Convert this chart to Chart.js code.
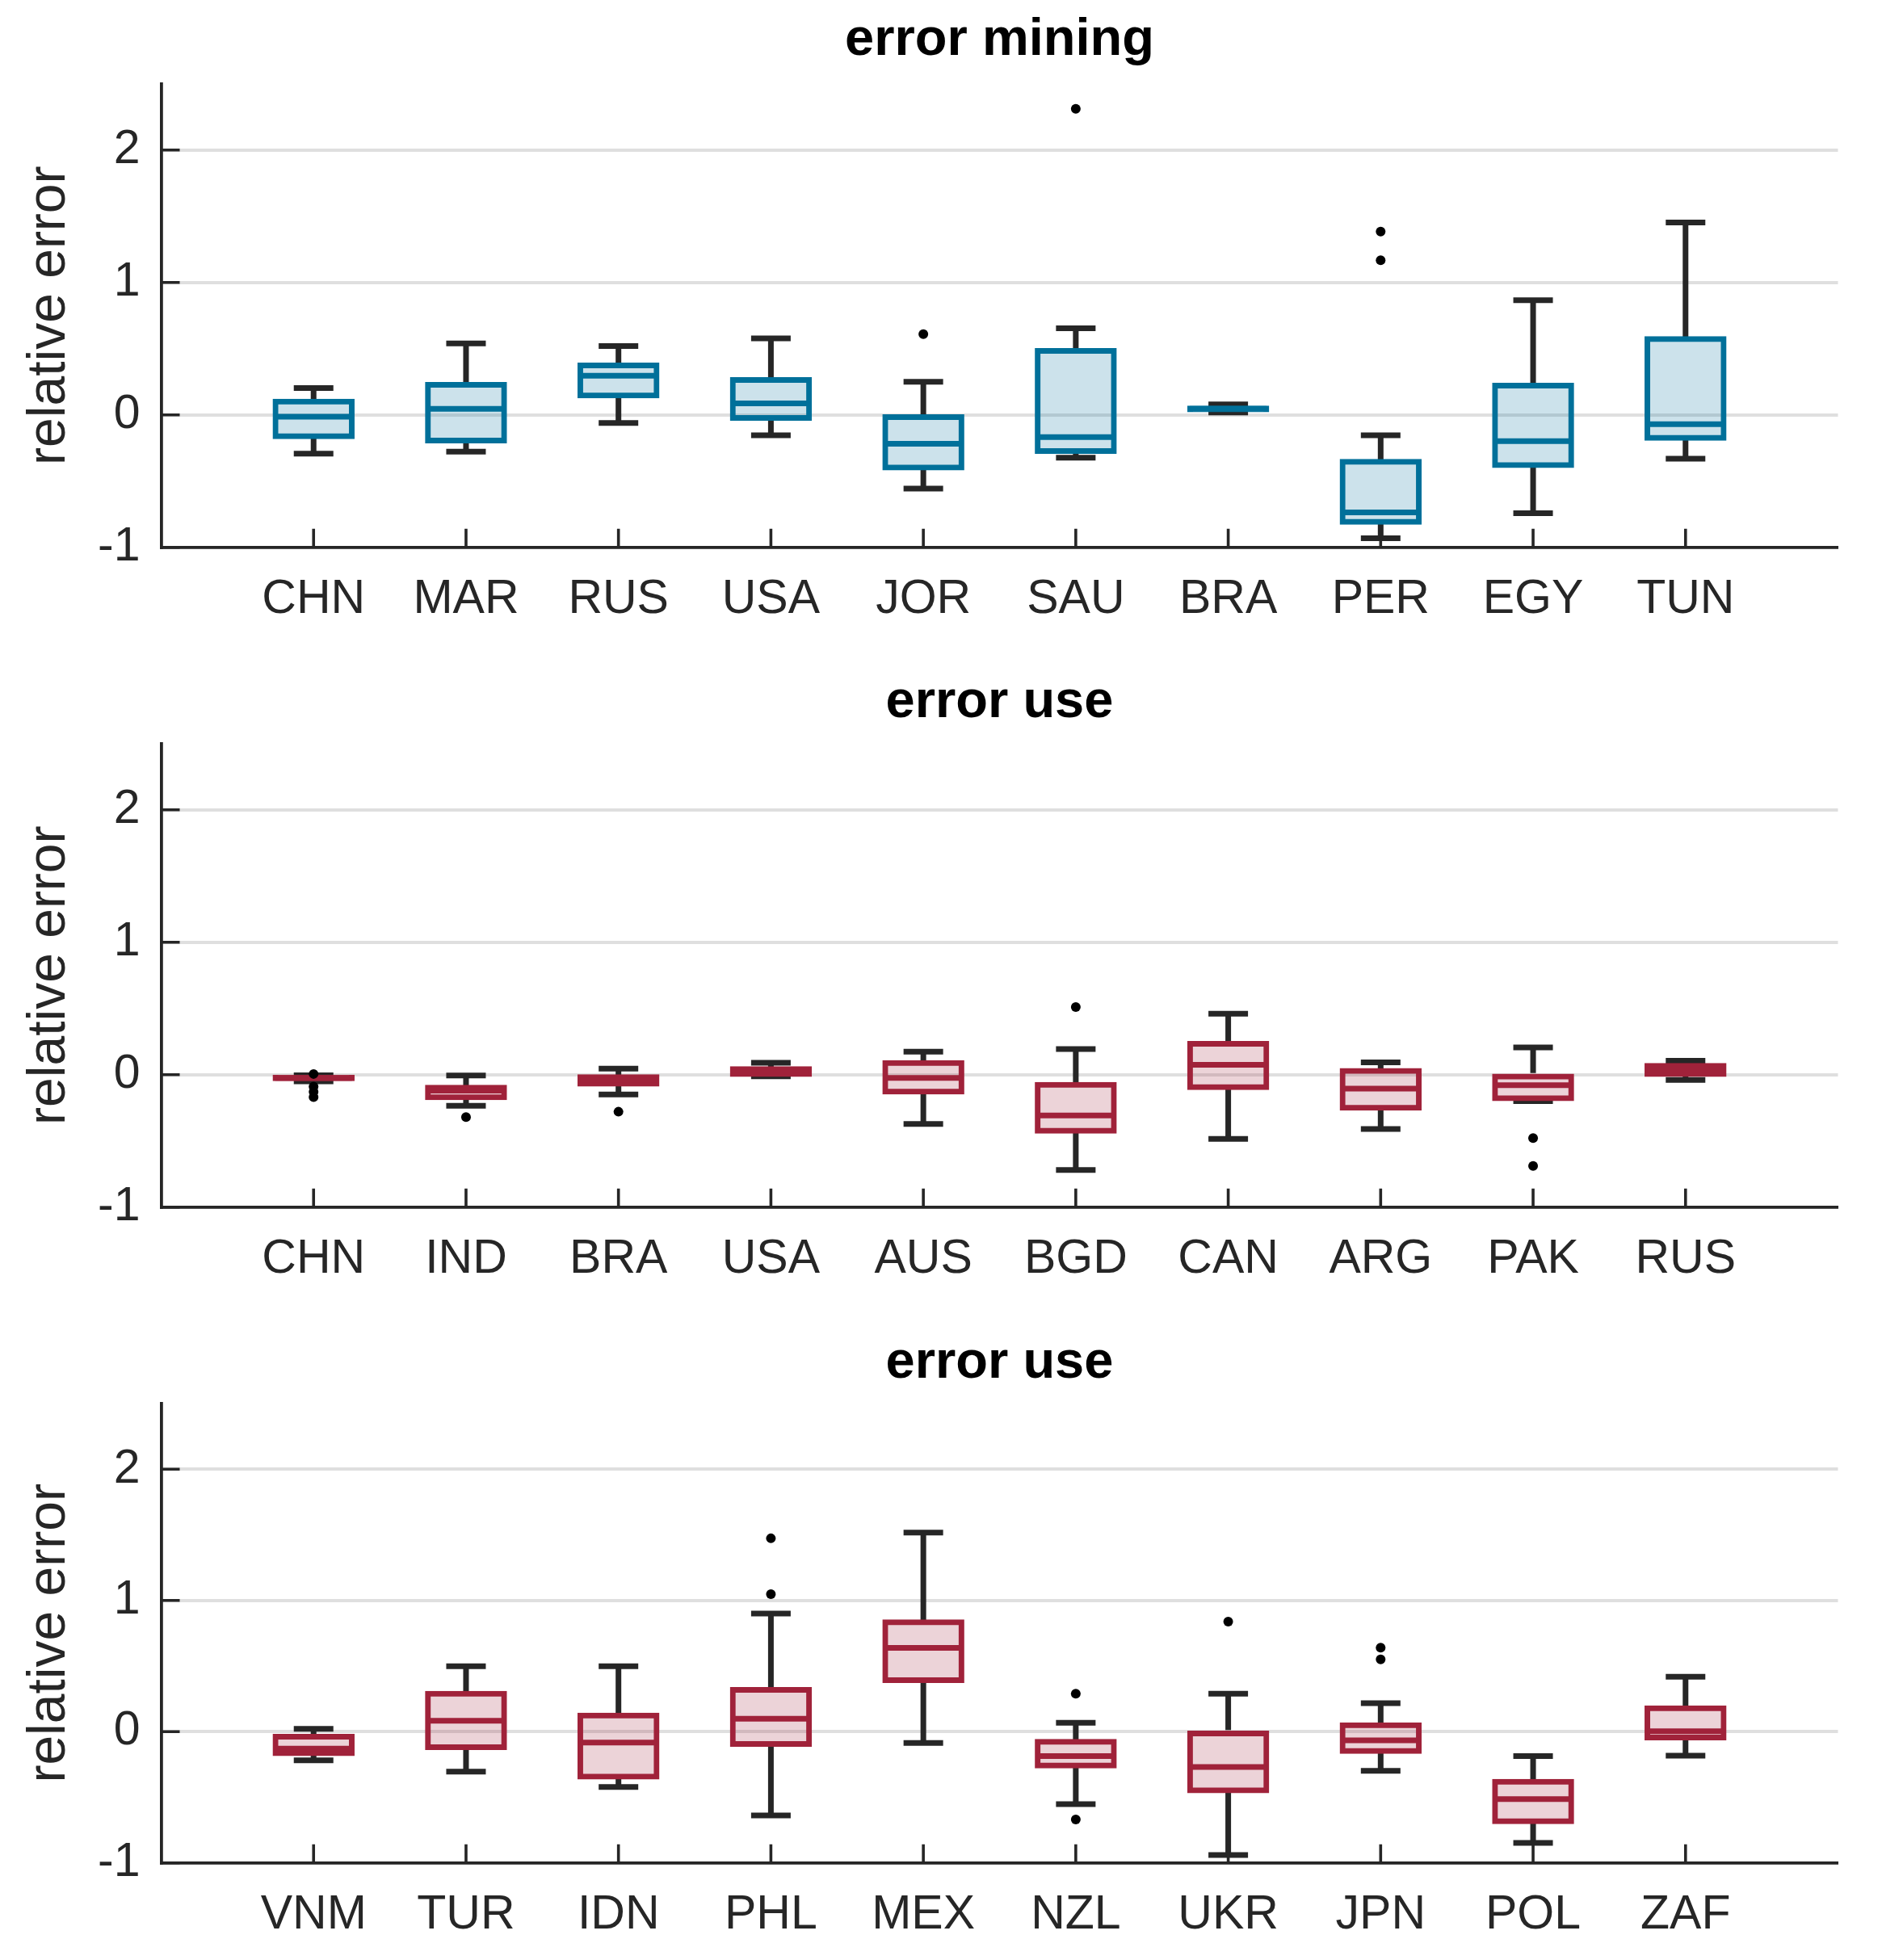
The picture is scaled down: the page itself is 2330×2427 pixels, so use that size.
<!DOCTYPE html>
<html>
<head>
<meta charset="utf-8">
<script src="https://cdn.jsdelivr.net/npm/chart.js@4.4.1/dist/chart.umd.min.js"></script>
<style>
  html, body { margin: 0; padding: 0; background: #ffffff; overflow: hidden; }
  #wrap { position: relative; width: 2330px; height: 2427px; background: #ffffff; }
  .panel { position: absolute; left: 0; width: 2330px; height: 817px; }
  canvas { display: block; }
</style>
</head>
<body>
<div id="wrap">
  <div class="panel" style="top:0px"><canvas id="c1" width="2330" height="817"></canvas></div>
  <div class="panel" style="top:817px"><canvas id="c2" width="2330" height="817"></canvas></div>
  <div class="panel" style="top:1634px"><canvas id="c3" width="2330" height="817"></canvas></div>
</div>
<script>
// ---------- data ----------
const yTickValues = [-1, 0, 1, 2];

// Panel 1: error mining
const miningLabels  = ['CHN', 'MAR', 'RUS', 'USA', 'JOR', 'SAU', 'BRA', 'PER', 'EGY', 'TUN'];
const miningLow     = [-0.293, -0.278, -0.062, -0.155, -0.556, -0.323, 0.018, -0.931, -0.742, -0.331];
const miningQ1      = [-0.163, -0.195, 0.145, -0.025, -0.400, -0.275, 0.039, -0.809, -0.382, -0.175];
const miningMedian  = [-0.014, 0.045, 0.295, 0.087, -0.218, -0.168, 0.045, -0.736, -0.199, -0.071];
const miningQ3      = [0.102, 0.228, 0.375, 0.265, -0.015, 0.485, 0.050, -0.352, 0.222, 0.575];
const miningHigh    = [0.203, 0.539, 0.520, 0.578, 0.250, 0.653, 0.079, -0.154, 0.866, 1.453];
const miningOutliers = [['JOR', 0.61], ['SAU', 2.31], ['PER', 1.384], ['PER', 1.167]];

// Panel 2: error use
const use1Labels  = ['CHN', 'IND', 'BRA', 'USA', 'AUS', 'BGD', 'CAN', 'ARG', 'PAK', 'RUS'];
const use1Low     = [-0.050, -0.235, -0.150, -0.012, -0.373, -0.720, -0.485, -0.410, -0.200, -0.040];
const use1Q1      = [-0.029, -0.173, -0.070, 0.003, -0.130, -0.425, -0.097, -0.252, -0.180, 0.003];
const use1Median  = [-0.025, -0.120, -0.040, 0.025, -0.025, -0.308, 0.075, -0.106, -0.080, 0.035];
const use1Q3      = [-0.020, -0.096, -0.017, 0.044, 0.090, -0.075, 0.235, 0.030, 0.000, 0.068];
const use1High    = [-0.005, -0.006, 0.045, 0.089, 0.174, 0.193, 0.460, 0.093, 0.205, 0.105];
const use1Outliers = [['CHN', 0.005], ['CHN', -0.09], ['CHN', -0.13], ['CHN', -0.17],
                      ['IND', -0.32], ['BRA', -0.28], ['BGD', 0.51], ['PAK', -0.479], ['PAK', -0.69]];

// Panel 3: error use
const use2Labels  = ['VNM', 'TUR', 'IDN', 'PHL', 'MEX', 'NZL', 'UKR', 'JPN', 'POL', 'ZAF'];
const use2Low     = [-0.219, -0.305, -0.422, -0.638, -0.086, -0.552, -0.940, -0.298, -0.848, -0.184];
const use2Q1      = [-0.166, -0.120, -0.345, -0.095, 0.390, -0.260, -0.450, -0.150, -0.685, -0.046];
const use2Median  = [-0.130, 0.083, -0.083, 0.098, 0.638, -0.187, -0.270, -0.067, -0.514, 0.003];
const use2Q3      = [-0.037, 0.290, 0.125, 0.320, 0.835, -0.075, 0.000, 0.050, -0.380, 0.180];
const use2High    = [0.022, 0.498, 0.498, 0.900, 1.517, 0.067, 0.289, 0.216, -0.187, 0.419];
const use2Outliers = [['PHL', 1.473], ['PHL', 1.048], ['NZL', 0.289], ['NZL', -0.67],
                      ['UKR', 0.838], ['JPN', 0.64], ['JPN', 0.55]];

// ---------- styling ----------
const FONT = "'Liberation Sans', Arial, Helvetica, sans-serif";
const DARK = '#262626';
const BLUE = '#00709A', BLUE_FILL = 'rgba(0,112,154,0.2)';
const RED = '#A0223A', RED_FILL = 'rgba(160,34,58,0.2)';

const inwardTicks = {
  id: 'inwardTicks',
  afterDatasetsDraw(chart) {
    const { ctx, chartArea: a, scales: { x, y } } = chart;
    ctx.save();
    ctx.strokeStyle = DARK;
    ctx.lineWidth = 3.6;
    ctx.beginPath();
    x.ticks.forEach((t, i) => {
      const lab = x.getLabelForValue(t.value);
      if (!lab || !String(lab).trim()) return;
      const px = x.getPixelForTick(i);
      ctx.moveTo(px, a.bottom);
      ctx.lineTo(px, a.bottom - 23);
    });
    y.ticks.forEach((t, i) => {
      const py = y.getPixelForTick(i);
      ctx.moveTo(a.left, py);
      ctx.lineTo(a.left + 23, py);
    });
    ctx.stroke();
    ctx.restore();
  }
};

function makePanel(id, titleText, labels, low, q1, med, q3, high, outliers, color, fill, layout) {
  const axisLabels = [''].concat(labels, [' ']);
  const pts = (arr) => labels.map((c, i) => ({ x: c, y: arr[i] }));
  const ranges = (a, b) => labels.map((c, i) => ({ x: c, y: [a[i], b[i]] }));

  const datasets = [
    { type: 'bar', label: 'whisker low', data: ranges(low, q1), backgroundColor: DARK,
      borderWidth: 0, barThickness: 7, grouped: false, inflateAmount: 0, order: 7 },
    { type: 'bar', label: 'whisker high', data: ranges(q3, high), backgroundColor: DARK,
      borderWidth: 0, barThickness: 7, grouped: false, inflateAmount: 0, order: 7 },
    { type: 'scatter', label: 'caps', data: pts(low).concat(pts(high)), showLine: false,
      pointStyle: 'line', pointRadius: 24.5, pointBorderWidth: 7, pointBorderColor: DARK,
      pointBackgroundColor: DARK, order: 6 },
    { type: 'bar', label: 'box fill', data: ranges(q1, q3), backgroundColor: fill,
      borderWidth: 0, barThickness: 95, grouped: false, inflateAmount: 0, order: 5 },
    { type: 'bar', label: 'box edge', data: ranges(q1, q3), backgroundColor: 'rgba(0,0,0,0)',
      borderColor: color, borderWidth: 0.5, borderSkipped: false, barThickness: 95,
      grouped: false, inflateAmount: 3.25, order: 4 },
    { type: 'scatter', label: 'median', data: pts(med), showLine: false,
      pointStyle: 'line', pointRadius: 47.5, pointBorderWidth: 7, pointBorderColor: color,
      pointBackgroundColor: color, order: 3 },
    { type: 'scatter', label: 'outliers', data: outliers.map(o => ({ x: o[0], y: o[1] })),
      showLine: false, pointStyle: 'circle', pointRadius: 6, pointBorderWidth: 0,
      pointBackgroundColor: '#000000', order: 1 }
  ];

  new Chart(document.getElementById(id), {
    type: 'bar',
    data: { labels: axisLabels, datasets },
    plugins: [inwardTicks],
    options: {
      responsive: false,
      animation: false,
      devicePixelRatio: 1,
      events: [],
      layout: { padding: { top: 0, right: 40, bottom: 0, left: 0 } },
      plugins: {
        legend: { display: false },
        tooltip: { enabled: false },
        title: {
          display: true, text: titleText, fullSize: false, color: '#000000',
          font: { family: FONT, size: 65, weight: 'bold', lineHeight: 1.2 },
          padding: { top: layout.titleTop, bottom: layout.titleBottom }
        }
      },
      scales: {
        x: {
          type: 'category',
          offset: false,
          grid: { display: true, drawOnChartArea: false, drawTicks: false, offset: false },
          border: { display: true, color: DARK, width: 3.8 },
          ticks: { autoSkip: false, maxRotation: 0, padding: 30, color: DARK,
                   font: { family: FONT, size: 59, lineHeight: 1.2 } },
          afterFit(scale) { scale.height = layout.xAxisHeight; }
        },
        y: {
          type: 'linear',
          min: -1, max: 2.5,
          afterBuildTicks(scale) {
            scale.ticks = yTickValues.map(v => ({ value: v }));
          },
          grid: { color: '#dfdfdf', lineWidth: 4, drawTicks: false },
          border: { display: true, color: DARK, width: 3.8 },
          ticks: { padding: 26, color: DARK, font: { family: FONT, size: 59, lineHeight: 1.2 } },
          title: { display: true, text: 'relative error', color: DARK,
                   font: { family: FONT, size: 66, lineHeight: 1.2 },
                   padding: { top: 22, bottom: 0 } },
          afterFit(scale) { scale.width = 199.5; }
        }
      }
    }
  });
}

makePanel('c1', 'error mining', miningLabels, miningLow, miningQ1, miningMedian, miningQ3, miningHigh,
          miningOutliers, BLUE, BLUE_FILL, { titleTop: 11.5, titleBottom: 14.2, xAxisHeight: 139.3 });
makePanel('c2', 'error use', use1Labels, use1Low, use1Q1, use1Median, use1Q3, use1High,
          use1Outliers, RED, RED_FILL, { titleTop: 14, titleBottom: 11.7, xAxisHeight: 139.3 });
makePanel('c3', 'error use', use2Labels, use2Low, use2Q1, use2Median, use2Q3, use2High,
          use2Outliers, RED, RED_FILL, { titleTop: 15, titleBottom: 11, xAxisHeight: 144.3 });
</script>
</body>
</html>
